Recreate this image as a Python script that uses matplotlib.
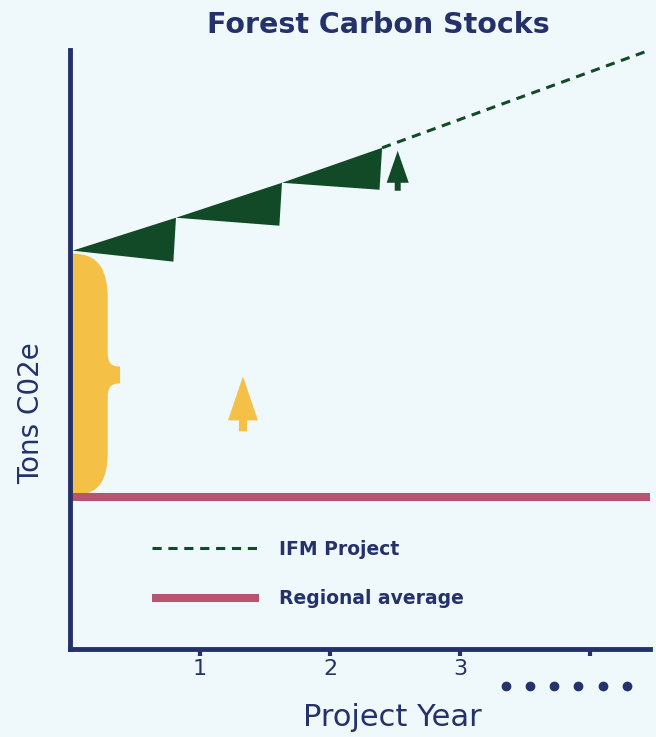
import numpy as np
import matplotlib
matplotlib.use("Agg")
import matplotlib.pyplot as plt
from matplotlib.path import Path
from matplotlib.patches import PathPatch

# colours
bg = "#eff8fb"
navy = "#24316a"
green = "#124a27"
yellow = "#f5c046"
pink = "#b8546f"

# sawtooth of the IFM project (years, tons)
tooth_start = [0.02, 0.815, 1.63]
tooth_end = [0.815, 1.63, 2.40]
top_start = [39.9, 43.2, 46.7]
top_end = [43.2, 46.7, 50.2]
bottom_end = [38.8, 42.4, 46.0]

# dashed projection beyond the last tooth
proj_x = [2.40, 4.46]
proj_y = [50.2, 60.0]

# regional average baseline
regional_x = [0.0, 4.46]
regional_y = [15.2, 15.2]

ticks = [1, 2, 3, 4]
tick_labels = ["1", "2", "3", ""]
dot_years = [3.35, 3.54, 3.72, 3.91, 4.10, 4.28]

font = "DejaVu Sans"

fig = plt.figure(figsize=(6.56, 7.37), dpi=100, facecolor=bg)
ax = fig.add_axes([70/656, 88/737, 580/656, 599/737])
ax.set_facecolor(bg)
ax.set_xlim(0, 4.46)
ax.set_ylim(0, 60)

for xs, xe, ts, te, be in zip(tooth_start, tooth_end, top_start, top_end, bottom_end):
    ax.fill([xs, xe, xe - 0.02, xs], [ts, te, be, ts], color=green, lw=0)

ax.plot(proj_x, proj_y, color=green, lw=2.2, ls=(0, (3, 2.2)), label="IFM Project")
ax.plot(regional_x, regional_y, color=pink, lw=5.8, solid_capstyle="butt",
        label="Regional average")

# yellow brace = additionality
verts = [(0.02, 39.6),
         (0.22, 39.6), (0.29, 38.0), (0.29, 35.0),
         (0.29, 29.8),
         (0.29, 28.7), (0.31, 28.3), (0.385, 28.3),
         (0.385, 26.6),
         (0.31, 26.6), (0.29, 26.2), (0.29, 25.1),
         (0.29, 19.8),
         (0.29, 16.8), (0.22, 15.4), (0.02, 15.4),
         (0.02, 39.6)]
codes = [Path.MOVETO,
         Path.CURVE4, Path.CURVE4, Path.CURVE4,
         Path.LINETO,
         Path.CURVE4, Path.CURVE4, Path.CURVE4,
         Path.LINETO,
         Path.CURVE4, Path.CURVE4, Path.CURVE4,
         Path.LINETO,
         Path.CURVE4, Path.CURVE4, Path.CURVE4,
         Path.CLOSEPOLY]
ax.add_patch(PathPatch(Path(verts, codes), facecolor=yellow, lw=0, zorder=1))

# tree arrows
ax.arrow(1.33, 21.8, 0, 5.5, width=0.062, head_width=0.23, head_length=4.4,
         length_includes_head=True, color=yellow, lw=0)
ax.arrow(2.52, 45.9, 0, 4.0, width=0.046, head_width=0.17, head_length=3.2,
         length_includes_head=True, color=green, lw=0)

# axes styling
for s in ["top", "right"]:
    ax.spines[s].set_visible(False)
for s in ["left", "bottom"]:
    ax.spines[s].set_color(navy)
    ax.spines[s].set_linewidth(3.5)
ax.set_yticks([])
ax.set_xticks(ticks)
ax.set_xticklabels(tick_labels, family=font, fontsize=16, color=navy)
ax.tick_params(axis="x", length=5, width=3, color=navy, pad=2)
ax.plot(dot_years, [-3.7] * len(dot_years), "o", ms=6, color=navy, clip_on=False)

ax.set_xlabel("Project Year", family=font, fontsize=22, color=navy)
ax.xaxis.set_label_coords(0.556, -0.09)
ax.set_ylabel("Tons C02e", family=font, fontsize=20, color=navy)
ax.yaxis.set_label_coords(-0.043, 0.394)

leg = ax.legend(loc="upper left", bbox_to_anchor=(0.141, 0.182), frameon=False,
                handlelength=5.7, handletextpad=1.1, labelspacing=1.62,
                borderpad=0, borderaxespad=0,
                prop={"family": font, "size": 13.5, "weight": "bold"})
for t in leg.get_texts():
    t.set_color(navy)

fig.text(378/656, 1 - 25/737, "Forest Carbon Stocks", ha="center", va="center",
         fontsize=20.5, fontweight="bold", color=navy)

fig.savefig("out.png", dpi=100, facecolor=bg)
